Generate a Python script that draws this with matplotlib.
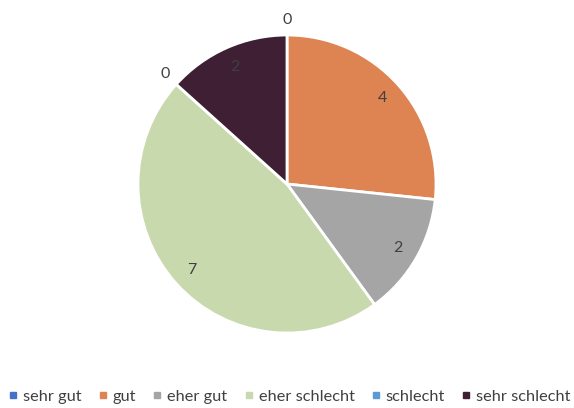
import matplotlib
matplotlib.use("Agg")
import matplotlib.pyplot as plt
from matplotlib.lines import Line2D
import numpy as np

categories = ["sehr gut", "gut", "eher gut", "eher schlecht", "schlecht", "sehr schlecht"]
values = [0, 4, 2, 7, 0, 2]
colors = ["#4472C4", "#DD8452", "#A5A5A5", "#C9D9AE", "#5B9BD5", "#3F1F33"]

plt.rcParams['font.family'] = ['Lato', 'DejaVu Sans']

fig = plt.figure(figsize=(5.74, 4.08), dpi=100)
ax = fig.add_axes([0.5 - 0.2596, 0.549 - 0.3652, 0.5192, 0.7304])

wedges, _ = ax.pie(values, colors=colors, startangle=90, counterclock=False,
                   wedgeprops=dict(edgecolor="white", linewidth=2))
ax.set_aspect('equal')
ax.set_xlim(-1, 1)
ax.set_ylim(-1, 1)

total = sum(values)
cum = 0
for v in values:
    mid = 90 - 360 * (cum + v / 2) / total
    r = 1.1 if v == 0 else 0.86
    x = r * np.cos(np.radians(mid))
    y = r * np.sin(np.radians(mid))
    ax.text(x, y, str(v), ha='center', va='center', fontsize=11.5, color="#404040")
    cum += v

handles = [Line2D([0], [0], marker='s', linestyle='', markersize=5,
                  markerfacecolor=c, markeredgecolor=c) for c in colors]
fig.legend(handles, categories, loc='center', bbox_to_anchor=(0.505, 0.027), ncol=6,
           frameon=False, fontsize=11.8, handlelength=0.5, handletextpad=0.35,
           columnspacing=1.05, labelcolor="#404040")

fig.savefig("out.png", dpi=100)
